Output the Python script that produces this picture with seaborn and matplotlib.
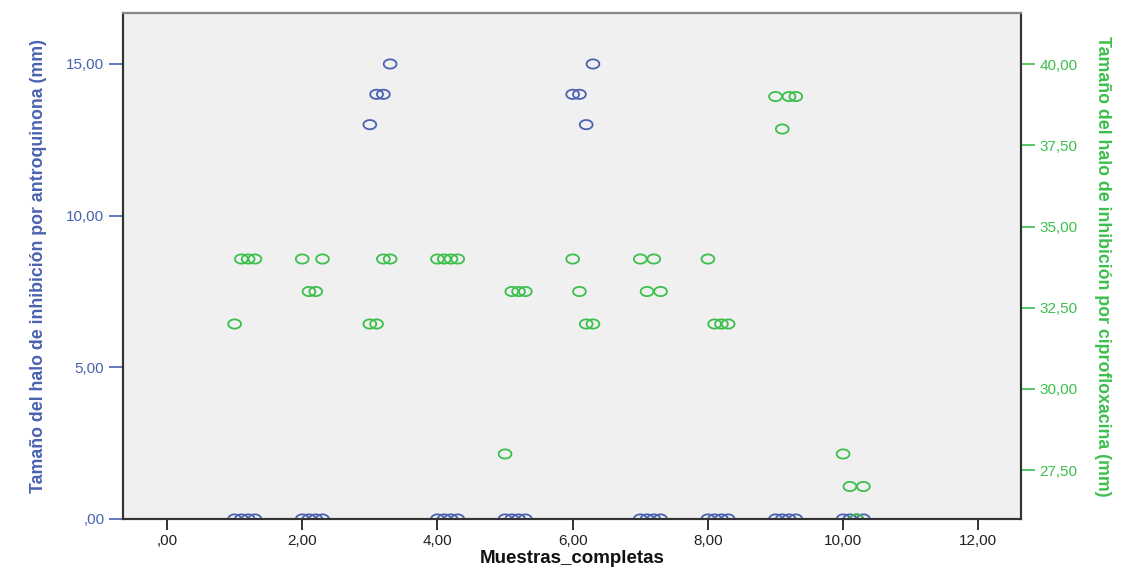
import numpy as np
import pandas as pd
import matplotlib
matplotlib.use('Agg')
import matplotlib.pyplot as plt
from matplotlib.path import Path
from matplotlib.ticker import FuncFormatter, MultipleLocator
import seaborn as sns

# Data
muestras = [1.0, 1.1, 1.2, 1.3, 2.0, 2.1, 2.2, 2.3, 3.0, 3.1, 3.2, 3.3,
            4.0, 4.1, 4.2, 4.3, 5.0, 5.1, 5.2, 5.3, 6.0, 6.1, 6.2, 6.3,
            7.0, 7.1, 7.2, 7.3, 8.0, 8.1, 8.2, 8.3, 9.0, 9.1, 9.2, 9.3,
            10.0, 10.1, 10.2, 10.3]
antroquinona = [0, 0, 0, 0, 0, 0, 0, 0, 13, 14, 14, 15,
                0, 0, 0, 0, 0, 0, 0, 0, 14, 14, 13, 15,
                0, 0, 0, 0, 0, 0, 0, 0, 0, 0, 0, 0,
                0, 0, 0, 0]
ciprofloxacina = [32, 34, 34, 34, 34, 33, 33, 34, 32, 32, 34, 34,
                  34, 34, 34, 34, 28, 33, 33, 33, 34, 33, 32, 32,
                  34, 33, 34, 33, 34, 32, 32, 32, 39, 38, 39, 39,
                  28, 27, 26, 27]

df = pd.DataFrame({'Muestras_completas': muestras,
                   'antroquinona': antroquinona,
                   'ciprofloxacina': ciprofloxacina})

blue = '#4a62b0'
green = '#3cbf4c'

sns.set_style('white')
plt.rcParams['font.family'] = ['Liberation Sans', 'DejaVu Sans']

# open ellipse marker (the reference is stretched horizontally)
t = np.linspace(0, 2 * np.pi, 60)
ellipse = Path(np.column_stack([np.cos(t), 0.72 * np.sin(t)]))


def fmt(v, pos):
    s = f'{v:.2f}'.replace('.', ',')
    if s.startswith('0,'):
        s = s[1:]
    return s


fig = plt.figure(figsize=(11.32, 5.71), dpi=100)
ax = fig.add_axes([0.1087, 0.0911, 0.7932, 0.8861])
ax.set_facecolor('#f0f0f0')
ax2 = ax.twinx()

sns.scatterplot(data=df, x='Muestras_completas', y='antroquinona', ax=ax,
                marker=ellipse, s=85, facecolor='none', edgecolor=blue,
                linewidth=1.3)
sns.scatterplot(data=df, x='Muestras_completas', y='ciprofloxacina', ax=ax2,
                marker=ellipse, s=85, facecolor='none', edgecolor=green,
                linewidth=1.3)

ax.set_xlim(-0.65, 12.63)
ax.set_ylim(0, 16.68)
ax2.set_ylim(26, 41.57)

ax.xaxis.set_major_locator(MultipleLocator(2))
ax.yaxis.set_major_locator(MultipleLocator(5))
ax2.yaxis.set_major_locator(MultipleLocator(2.5))
for a in (ax.xaxis, ax.yaxis, ax2.yaxis):
    a.set_major_formatter(FuncFormatter(fmt))

ax.tick_params(axis='x', direction='out', length=8, width=1.3, color='#222222',
               labelsize=11, labelcolor='#222222', pad=3, bottom=True)
ax.tick_params(axis='y', direction='out', length=10, width=1.2, color=blue,
               labelsize=11, labelcolor=blue, left=True)
ax2.tick_params(axis='y', direction='out', length=10, width=1.2, color=green,
                labelsize=11, labelcolor=green, right=True)

for a in (ax, ax2):
    for sp in a.spines.values():
        sp.set_visible(True)
        sp.set_color('#333333')
        sp.set_linewidth(1.5)
ax2.spines['top'].set_color('#888888')

ax.set_ylabel('Tamaño del halo de inhibición por antroquinona (mm)',
              color=blue, fontsize=12.8, fontweight='bold', labelpad=14)
ax2.set_ylabel('Tamaño del halo de inhibición por ciprofloxacina (mm)',
               color=green, fontsize=12.8, fontweight='bold',
               rotation=270, labelpad=24)
ax.set_xlabel('Muestras_completas', fontsize=13.5, fontweight='bold',
              color='#111111', labelpad=1)

plt.savefig('out.png', dpi=100)
